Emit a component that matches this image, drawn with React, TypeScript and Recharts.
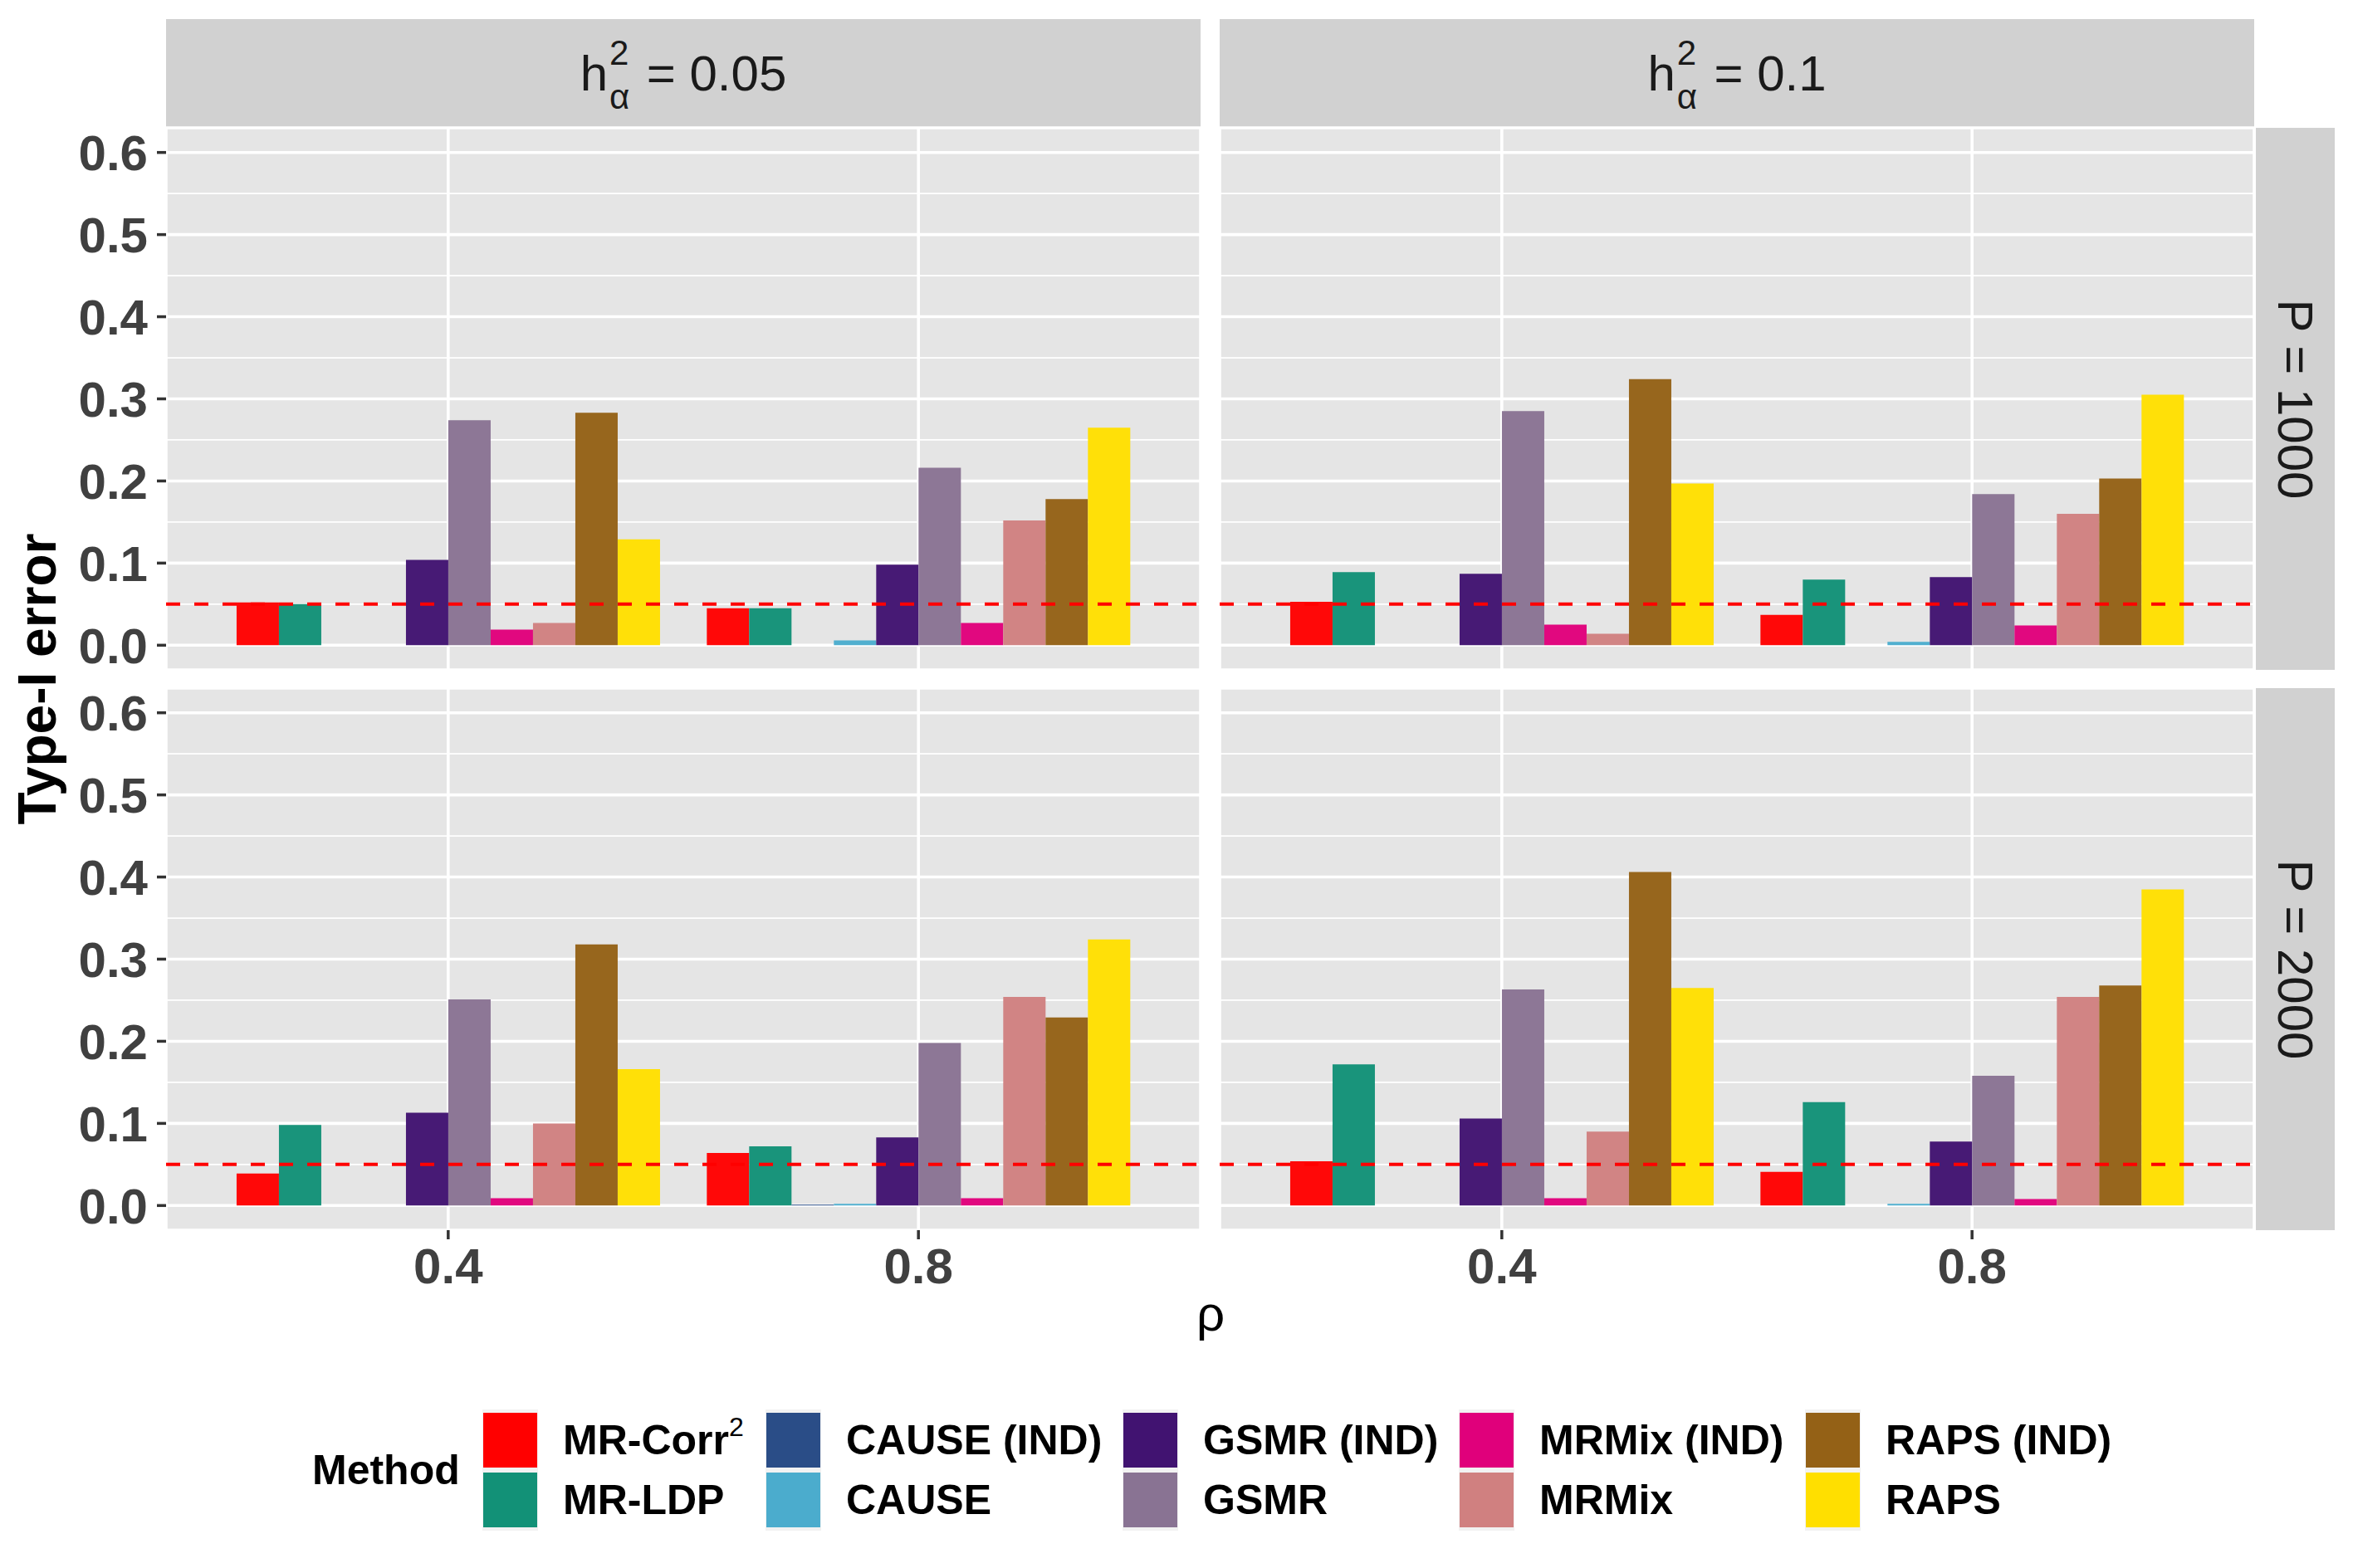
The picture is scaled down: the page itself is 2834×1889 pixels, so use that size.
import React from "react";
import { BarChart, Bar, XAxis, YAxis, CartesianGrid, ReferenceLine } from "recharts";

const rhoLevels = ["0.4", "0.8"];
const methodNames = [
  "MR-Corr2",
  "MR-LDP",
  "CAUSE (IND)",
  "CAUSE",
  "GSMR (IND)",
  "GSMR",
  "MRMix (IND)",
  "MRMix",
  "RAPS (IND)",
  "RAPS",
];
const methodColors = [
  "#FF0000",
  "#129177",
  "#2A4D87",
  "#4BACCD",
  "#411371",
  "#897393",
  "#E0007B",
  "#D08080",
  "#946116",
  "#FFDF00",
];

const yTicks = [0, 0.1, 0.2, 0.3, 0.4, 0.5, 0.6];
const yMinorTicks = [0.05, 0.15, 0.25, 0.35, 0.45, 0.55];
const nominalLevel = 0.05;

// type-I error, one value per method (same order as methodNames)
const h005P1000Rho04 = [0.052, 0.05, null, null, 0.104, 0.274, 0.019, 0.027, 0.283, 0.129];
const h005P1000Rho08 = [0.045, 0.045, 0, 0.006, 0.098, 0.216, 0.027, 0.152, 0.178, 0.265];
const h01P1000Rho04 = [0.053, 0.089, null, null, 0.087, 0.285, 0.025, 0.014, 0.324, 0.197];
const h01P1000Rho08 = [0.037, 0.08, 0, 0.004, 0.083, 0.184, 0.024, 0.16, 0.203, 0.305];
const h005P2000Rho04 = [0.039, 0.098, null, null, 0.113, 0.251, 0.009, 0.1, 0.318, 0.166];
const h005P2000Rho08 = [0.064, 0.072, 0.001, 0.002, 0.083, 0.198, 0.009, 0.254, 0.229, 0.324];
const h01P2000Rho04 = [0.054, 0.172, null, null, 0.106, 0.263, 0.009, 0.09, 0.406, 0.265];
const h01P2000Rho08 = [0.041, 0.126, 0, 0.002, 0.078, 0.158, 0.008, 0.254, 0.268, 0.385];

const heritabilities = ["0.05", "0.1"];
const snpCounts = ["1000", "2000"];

const PANEL_W = 1246;
const PANEL_H = 653;
const PAD = PANEL_W / 22;
const Y_AXIS_W = 180;
const X_AXIS_H = 90;
const EDGE = 45; // room above/below the plot so tick labels stay inside the svg
const panelLefts = [200, 1469];
const panelTops = [154, 829];

const tickStyle = {
  fontSize: 60,
  fontWeight: 700,
  fill: "#404040",
  fontFamily: "Liberation Sans, Arial, sans-serif",
};

function Panel({
  rows,
  showX,
  showY,
  left,
  top,
}: {
  rows: (number | null)[][];
  showX: boolean;
  showY: boolean;
  left: number;
  top: number;
}) {
  const data = rhoLevels.map((rho, i) => {
    const row: Record<string, any> = { rho };
    methodNames.forEach((_, j) => {
      row["m" + j] = rows[i][j];
    });
    return row;
  });
  const yw = showY ? Y_AXIS_W : 0;
  const xh = showX ? X_AXIS_H : 0;
  const bottomEdge = showX ? 0 : EDGE;
  return (
    <div style={{ position: "absolute", left: left - yw, top: top - EDGE }}>
      <BarChart
        width={PANEL_W + yw}
        height={PANEL_H + xh + EDGE + bottomEdge}
        data={data}
        margin={{ top: EDGE, right: 0, bottom: bottomEdge, left: 0 }}
        barGap={0}
        barCategoryGap="5%"
      >
        <CartesianGrid
          yAxisId="minor"
          vertical={false}
          stroke="#FFFFFF"
          strokeWidth={1.8}
          fill="#E5E5E5"
          fillOpacity={1}
        />
        <CartesianGrid yAxisId="main" stroke="#FFFFFF" strokeWidth={3.6} />
        <XAxis
          dataKey="rho"
          hide={!showX}
          height={X_AXIS_H}
          padding={{ left: PAD, right: PAD }}
          axisLine={false}
          tickSize={11}
          tickMargin={10}
          tickLine={{ stroke: "#333333", strokeWidth: 3.5 }}
          tick={tickStyle}
          interval={0}
        />
        <YAxis
          yAxisId="main"
          type="number"
          hide={!showY}
          width={Y_AXIS_W}
          domain={[-0.03, 0.63]}
          ticks={yTicks}
          interval={0}
          allowDataOverflow
          axisLine={false}
          tickSize={11}
          tickMargin={11}
          tickLine={{ stroke: "#333333", strokeWidth: 3.5 }}
          tick={tickStyle}
          tickFormatter={(v: number) => v.toFixed(1)}
        />
        <YAxis
          yAxisId="minor"
          type="number"
          hide
          domain={[-0.03, 0.63]}
          ticks={yMinorTicks}
          interval={0}
          allowDataOverflow
        />
        {methodNames.map((m, j) => (
          <Bar
            key={m}
            yAxisId="main"
            dataKey={"m" + j}
            fill={methodColors[j]}
            fillOpacity={0.97}
            isAnimationActive={false}
          />
        ))}
        <ReferenceLine
          yAxisId="main"
          y={nominalLevel}
          stroke="#FF0000"
          strokeWidth={4}
          strokeDasharray="17 17"
        />
      </BarChart>
    </div>
  );
}

function TopStrip({ h2, left }: { h2: string; left: number }) {
  return (
    <div
      style={{
        position: "absolute",
        left,
        top: 23,
        width: PANEL_W,
        height: 131,
        background: "#D1D1D1",
        display: "flex",
        alignItems: "center",
        justifyContent: "center",
        color: "#1A1A1A",
        fontFamily: "Liberation Sans, Arial, sans-serif",
      }}
    >
      <span style={{ fontSize: 60, lineHeight: 1, whiteSpace: "pre", position: "relative" }}>
        h
        <span style={{ display: "inline-block", position: "relative", width: 30, height: 60, verticalAlign: "top" }}>
          <span style={{ position: "absolute", left: 2, top: -16, fontSize: 42, lineHeight: 1 }}>2</span>
          <span style={{ position: "absolute", left: 2, top: 37, fontSize: 42, lineHeight: 1 }}>α</span>
        </span>
        {" = " + h2}
      </span>
    </div>
  );
}

function SideStrip({ p, top }: { p: string; top: number }) {
  return (
    <div
      style={{
        position: "absolute",
        left: 2717,
        top,
        width: 95,
        height: PANEL_H,
        background: "#D1D1D1",
        display: "flex",
        alignItems: "center",
        justifyContent: "center",
        color: "#1A1A1A",
        fontFamily: "Liberation Sans, Arial, sans-serif",
      }}
    >
      <span style={{ fontSize: 60, lineHeight: 1, whiteSpace: "pre", transform: "rotate(90deg)", display: "inline-block" }}>
        {"P = " + p}
      </span>
    </div>
  );
}

function MethodLabel({ name }: { name: string }) {
  if (name === "MR-Corr2") {
    return (
      <>
        MR-Corr
        <span style={{ fontSize: 32, fontWeight: 400, position: "relative", top: -22 }}>2</span>
      </>
    );
  }
  return <>{name}</>;
}

const legendKeyX = [582, 923, 1353, 1758, 2175];
const legendRowY = [1702, 1774];

function MethodLegend() {
  const cols = [0, 1, 2, 3, 4];
  return (
    <>
      <div
        style={{
          position: "absolute",
          left: 376,
          top: 1771 - 25,
          fontSize: 50,
          lineHeight: "50px",
          fontWeight: 700,
          color: "#000",
        }}
      >
        Method
      </div>
      {cols.map((c) => (
        <div
          key={"bg" + c}
          style={{
            position: "absolute",
            left: legendKeyX[c] - 1,
            top: legendRowY[0] - 4,
            width: 67,
            height: 146,
            background: "#F2F2F2",
          }}
        />
      ))}
      {cols.map((c) =>
        [0, 1].map((r) => {
          const j = c * 2 + r;
          return (
            <React.Fragment key={methodNames[j]}>
              <div
                style={{
                  position: "absolute",
                  left: legendKeyX[c],
                  top: legendRowY[r],
                  width: 65,
                  height: 66,
                  background: methodColors[j],
                }}
              />
              <div
                style={{
                  position: "absolute",
                  left: legendKeyX[c] + 96,
                  top: legendRowY[r] + 33 - 25,
                  fontSize: 50,
                  lineHeight: "50px",
                  fontWeight: 700,
                  color: "#000",
                  whiteSpace: "nowrap",
                }}
              >
                <MethodLabel name={methodNames[j]} />
              </div>
            </React.Fragment>
          );
        })
      )}
    </>
  );
}

export default function App() {
  const grid = [
    [h005P1000Rho04, h005P1000Rho08],
    [h01P1000Rho04, h01P1000Rho08],
    [h005P2000Rho04, h005P2000Rho08],
    [h01P2000Rho04, h01P2000Rho08],
  ];
  return (
    <div
      style={{
        position: "absolute",
        left: 0,
        top: 0,
        width: 2834,
        height: 1889,
        background: "#FFFFFF",
        fontFamily: "Liberation Sans, Arial, sans-serif",
        overflow: "hidden",
      }}
    >
      {heritabilities.map((h, c) => (
        <TopStrip key={h} h2={h} left={panelLefts[c]} />
      ))}
      {snpCounts.map((p, r) => (
        <SideStrip key={p} p={p} top={panelTops[r]} />
      ))}
      {snpCounts.map((p, r) =>
        heritabilities.map((h, c) => (
          <Panel
            key={p + h}
            rows={grid[r * 2 + c]}
            showX={r === 1}
            showY={c === 0}
            left={panelLefts[c]}
            top={panelTops[r]}
          />
        ))
      )}
      <div
        style={{
          position: "absolute",
          left: 45 - 250,
          top: 818 - 32,
          width: 500,
          height: 64,
          fontSize: 64,
          lineHeight: "64px",
          fontWeight: 700,
          textAlign: "center",
          color: "#000",
          transform: "rotate(-90deg)",
        }}
      >
        Type-I error
      </div>
      <div
        style={{
          position: "absolute",
          left: 1458 - 100,
          top: 1553,
          width: 200,
          fontSize: 60,
          lineHeight: "60px",
          textAlign: "center",
          color: "#000",
        }}
      >
        ρ
      </div>
      <MethodLegend />
    </div>
  );
}
